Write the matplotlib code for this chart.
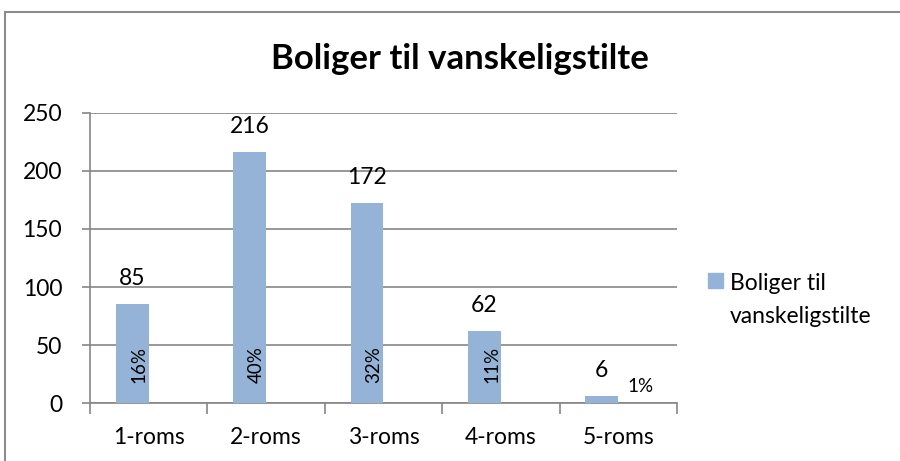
import matplotlib
matplotlib.use("Agg")
import matplotlib.pyplot as plt
import numpy as np
from matplotlib.lines import Line2D
from matplotlib.patches import Rectangle

categories = ["1-roms", "2-roms", "3-roms", "4-roms", "5-roms"]
values = [85, 216, 172, 62, 6]
shares = ["16%", "40%", "32%", "11%", "1%"]
series_lines = ["Boliger til", "vanskeligstilte"]
title = "Boliger til vanskeligstilte"

BAR = "#95b3d7"
GRID = "#868686"

plt.rcParams["font.family"] = ["Lato", "DejaVu Sans"]

fig = plt.figure(figsize=(9, 4.61), dpi=100)
ax = fig.add_axes([0.1, 0.1258, 0.6522, 0.6291])

x = np.arange(len(categories))
width = 0.28
bars = ax.bar(x - width / 2, values, width=width, color=BAR, zorder=3)

ax.set_xlim(-0.5, len(categories) - 0.5)
ax.set_ylim(0, 250)
ax.set_yticks(range(0, 251, 50))
ax.yaxis.grid(True, color=GRID, linewidth=1.2, zorder=0)
ax.set_axisbelow(True)

for side in ("top", "right"):
    ax.spines[side].set_visible(False)
ax.spines["left"].set_color(GRID)
ax.spines["bottom"].set_color(GRID)
ax.spines["left"].set_linewidth(1.2)
ax.spines["bottom"].set_linewidth(1.2)

# category ticks sit at the boundaries, labels centred in between
ax.set_xticks(np.arange(len(categories) + 1) - 0.5)
ax.set_xticklabels([])
ax.set_xticks(x, minor=True)
ax.set_xticklabels(categories, minor=True, fontsize=16.5)
ax.tick_params(axis="x", which="major", length=8, color=GRID, width=1.2)
ax.tick_params(axis="x", which="minor", length=0, pad=17)
ax.tick_params(axis="y", length=6, color=GRID, width=1.2, labelsize=16.5, pad=14)

for b, v in zip(bars, values):
    ax.text(b.get_x() + b.get_width() / 2, v + 13, str(v), ha="center",
            va="bottom", fontsize=16.5)

for i, s in enumerate(shares):
    if values[i] > 30:
        ax.text(i - width / 2 + 0.06, 33, s, rotation=90, ha="center",
                va="center", fontsize=13.5)
    else:
        ax.text(i + 0.185, 14, s, ha="center", va="center", fontsize=13.5)

fig.text(0.511, 0.872, title, ha="center", va="center", fontsize=25,
         fontweight="bold")

# legend drawn by hand so the swatch lines up with the first text line
fig.add_artist(Rectangle((0.7867, 0.3753), 0.0166, 0.0325, color=BAR,
                         transform=fig.transFigure))
fig.text(0.811, 0.371, series_lines[0], ha="left", va="baseline", fontsize=16.5)
fig.text(0.811, 0.2994, series_lines[1], ha="left", va="baseline", fontsize=16.5)

# outer chart frame (only top and left edges are visible in the crop)
fig.add_artist(Line2D([0.0055, 0.0055], [0, 0.974], color="#8c8c8c",
                      linewidth=1.5, transform=fig.transFigure))
fig.add_artist(Line2D([0.0055, 1], [0.974, 0.974], color="#8c8c8c",
                      linewidth=1.5, transform=fig.transFigure))

fig.savefig("out.png", dpi=100)
